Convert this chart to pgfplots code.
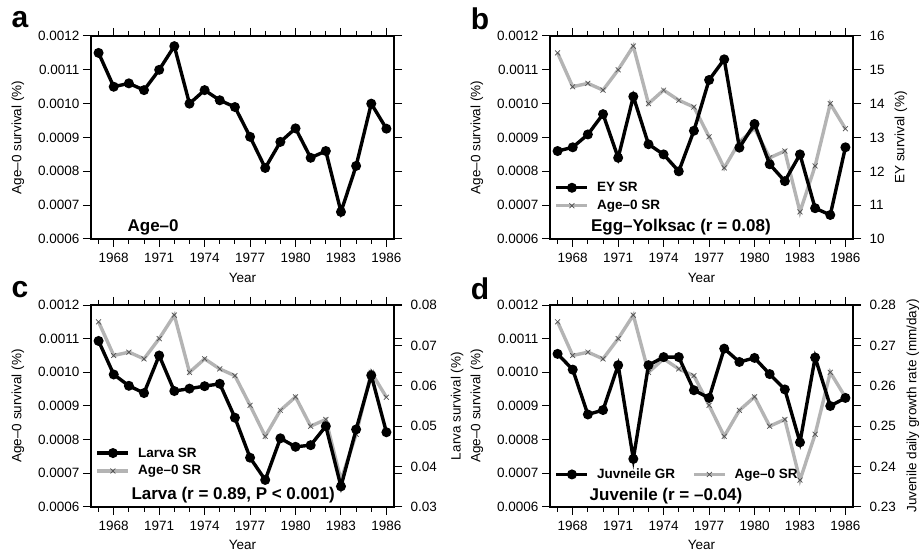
\documentclass[border=0pt]{standalone}
\usepackage{fontspec}
\setmainfont{Liberation Sans}
\usepackage{pgfplots}
\usepackage{pgfplotstable}
\pgfplotsset{compat=1.18}

\definecolor{agegray}{RGB}{180,180,180}
\definecolor{crossgray}{RGB}{80,80,80}

% Annual survival / growth series, 1967-1986
\pgfplotstableread{
year age0     ey    larva  juv
1967 0.001150 12.60 0.0711 0.2679
1968 0.001050 12.71 0.0628 0.2640
1969 0.001060 13.09 0.0600 0.2529
1970 0.001040 13.69 0.0582 0.2540
1971 0.001100 12.40 0.0675 0.2651
1972 0.001170 14.21 0.0587 0.2419
1973 0.001000 12.80 0.0593 0.2651
1974 0.001040 12.50 0.0599 0.2671
1975 0.001010 12.00 0.0605 0.2671
1976 0.000990 13.20 0.0521 0.2589
1977 0.000902 14.70 0.0422 0.2570
1978 0.000810 15.31 0.0367 0.2692
1979 0.000887 12.70 0.0470 0.2659
1980 0.000927 13.40 0.0449 0.2669
1981 0.000840 12.21 0.0453 0.2629
1982 0.000860 11.71 0.0500 0.2591
1983 0.000680 12.50 0.0351 0.2460
1984 0.000816 10.91 0.0492 0.2670
1985 0.001000 10.71 0.0626 0.2550
1986 0.000926 12.71 0.0485 0.2570
}\survival

\newcommand{\tickfont}{\fontsize{13.5}{15}\selectfont}
\newcommand{\titlefont}{\bfseries\fontsize{17}{19}\selectfont}
\newcommand{\letterfont}{\bfseries\fontsize{30}{30}\selectfont}

\pgfplotsset{
  panel/.style={
    scale only axis, width=303pt, height=203pt,
    xmin=1966.5, xmax=1986.5,
    xtick={1968,1971,...,1986}, minor xtick={1967,...,1986},
    tick align=outside, major tick length=8pt, minor tick length=5pt,
    tick style={black, line width=1pt},
    axis line style={line width=2pt},
    /pgf/number format/assume math mode=true,
    ticklabel style={font=\tickfont},
    x tick label style={/pgf/number format/1000 sep={}, yshift=-3pt},
    label style={font=\tickfont},
    clip=false,
  },
  leftscale/.style={
    ymin=0.0006, ymax=0.0012,
    ytick={0.0006,0.0007,0.0008,0.0009,0.001,0.0011,0.0012},
    scaled y ticks=false,
    y tick label style={/pgf/number format/.cd, fixed, fixed zerofill, precision=4},
    ylabel={Age–0 survival (\%)},
    ylabel style={at={(axis description cs:-0.241,0.5)}, anchor=center},
    xlabel={Year},
    xlabel style={at={(axis description cs:0.5,-0.19)}, anchor=center},
  },
  rightscale/.style={
    axis y line*=right, axis x line=none,
    scaled y ticks=false,
    y tick label style={xshift=5pt},
    ylabel style={anchor=center},
  },
  blackser/.style={black, line width=3.4pt, mark=*, mark size=3.2pt, mark options={solid}},
  grayser/.style={agegray, line width=3.4pt, mark=x, mark size=3.5pt,
    mark options={crossgray, line width=0.7pt}},
  legendstyle/.style={
    legend style={draw=none, fill=none, font=\bfseries\tickfont,
      inner sep=0pt, row sep=3pt, nodes={inner sep=2pt},
      /tikz/every odd column/.append style={column sep=6pt}},
    legend cell align=left,
    legend image code/.code={
      \draw[mark repeat=2,mark phase=2,##1] plot coordinates {(0pt,0pt) (15.5pt,0pt) (31pt,0pt)};},
  },
}

\begin{document}
\begin{tikzpicture}
\useasboundingbox (0,0) rectangle (922pt,556pt);

% ---- a: age-0 survival
\begin{axis}[panel, leftscale, at={(91pt,317pt)}, anchor=south west]
  \addplot[blackser] table[x=year, y=age0] {\survival};
  \node[font=\titlefont] at (axis description cs:0.205,0.059) {Age–0};
\end{axis}
\node[font=\letterfont] at (20pt,536pt) {a};

% ---- b: egg-yolksac
\begin{axis}[panel, leftscale, at={(550pt,317pt)}, anchor=south west]
  \addplot[grayser] table[x=year, y=age0] {\survival};
\end{axis}
\begin{axis}[panel, rightscale, legendstyle, at={(550pt,317pt)}, anchor=south west,
    ymin=10, ymax=16, ytick={10,11,...,16},
    ylabel={EY survival (\%)},
    ylabel style={at={(axis description cs:1.158,0.5)}},
    legend style={at={(axis description cs:0.015,0.29)}, anchor=north west}]
  \addplot[blackser] table[x=year, y=ey] {\survival};
  \addlegendentry{EY SR}
  \addlegendimage{grayser}
  \addlegendentry{Age–0 SR}
  \node[font=\titlefont] at (axis description cs:0.432,0.059) {Egg–Yolksac (r = 0.08)};
\end{axis}
\node[font=\letterfont] at (480pt,537pt) {b};

% ---- c: larva
\begin{axis}[panel, leftscale, at={(91pt,49pt)}, anchor=south west, height=202pt]
  \addplot[grayser] table[x=year, y=age0] {\survival};
\end{axis}
\begin{axis}[panel, rightscale, legendstyle, at={(91pt,49pt)}, anchor=south west, height=202pt,
    ymin=0.03, ymax=0.08, ytick={0.03,0.04,0.05,0.06,0.07,0.08},
    y tick label style={/pgf/number format/.cd, fixed, fixed zerofill, precision=2},
    ylabel={Larva survival (\%)},
    ylabel style={at={(axis description cs:1.208,0.5)}},
    legend style={at={(axis description cs:0.015,0.305)}, anchor=north west}]
  \addplot[blackser] table[x=year, y=larva] {\survival};
  \addlegendentry{Larva SR}
  \addlegendimage{grayser}
  \addlegendentry{Age–0 SR}
  \node[font=\titlefont] at (axis description cs:0.469,0.059) {Larva (r = 0.89, P < 0.001)};
\end{axis}
\node[font=\letterfont] at (20pt,266pt) {c};

% ---- d: juvenile growth
\begin{axis}[panel, leftscale, at={(550pt,49pt)}, anchor=south west, height=202pt]
  \addplot[grayser] table[x=year, y=age0] {\survival};
\end{axis}
\begin{axis}[panel, rightscale, legendstyle, at={(550pt,49pt)}, anchor=south west, height=202pt,
    ymin=0.23, ymax=0.28, ytick={0.23,0.24,0.25,0.26,0.27,0.28},
    y tick label style={/pgf/number format/.cd, fixed, fixed zerofill, precision=2},
    ylabel={Juvenile daily growth rate (mm/day)},
    ylabel style={at={(axis description cs:1.198,0.5)}},
    legend columns=2,
    legend style={at={(axis description cs:0.015,0.2)}, anchor=north west,
      /tikz/every even column/.append style={column sep=15pt}}]
  \addplot[blackser] table[x=year, y=juv] {\survival};
  \addlegendentry{Juvneile GR}
  \addlegendimage{grayser}
  \addlegendentry{Age–0 SR}
  \node[font=\titlefont] at (axis description cs:0.383,0.054) {Juvenile (r = –0.04)};
\end{axis}
\node[font=\letterfont] at (480pt,267pt) {d};
\end{tikzpicture}
\end{document}
